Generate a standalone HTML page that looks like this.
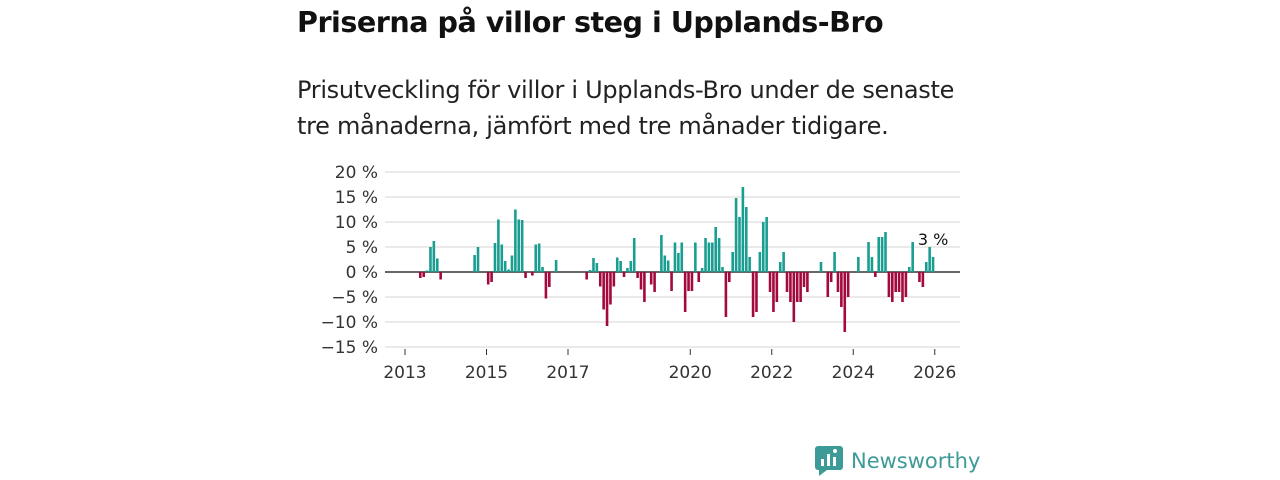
<!DOCTYPE html>
<html><head><meta charset="utf-8"><style>
body{margin:0;width:1280px;height:480px;background:#fff;font-family:"Liberation Sans","DejaVu Sans",sans-serif;overflow:hidden;position:relative}
#title{position:absolute;left:297px;top:5px;font-size:28.6px;font-weight:bold;color:#111;margin:0;font-family:"DejaVu Sans","Liberation Sans",sans-serif;letter-spacing:-0.5px}
#sub{position:absolute;left:297px;top:72px;font-size:24px;line-height:36px;color:#222;width:675px;font-family:"DejaVu Sans","Liberation Sans",sans-serif;letter-spacing:-0.3px}
svg{position:absolute;left:0;top:0}
#logo{position:absolute;left:815px;top:446px;display:flex;align-items:center;gap:8px;color:#3d9b97;font-size:21px;font-family:"DejaVu Sans",sans-serif}
</style></head><body>
<h1 id="title">Priserna på villor steg i Upplands-Bro</h1>
<div id="sub">Prisutveckling för villor i Upplands-Bro under de senaste tre månaderna, jämfört med tre månader tidigare.</div>
<svg id="chart" width="1280" height="480"></svg>
<div id="logo"><svg width="28" height="30" style="position:static"><rect x="0" y="0" width="28" height="24" rx="3" fill="#3d9b97"/><polygon points="4,24 12,24 4,30" fill="#3d9b97"/><rect x="6" y="13" width="3" height="7" fill="#fff"/><rect x="12" y="8" width="3" height="12" fill="#fff"/><rect x="18" y="11" width="3" height="9" fill="#fff"/><circle cx="20" cy="5" r="2" fill="#fff"/></svg><span>Newsworthy</span></div>
<script>
const monthIndex=[4,5,6,7,8,9,10,20,21,24,25,26,27,28,29,30,31,32,33,34,35,37,38,39,40,41,42,44,53,54,55,56,57,58,59,60,61,62,63,64,65,66,67,68,69,70,72,73,75,76,77,78,79,80,81,82,83,84,85,86,87,88,89,90,91,92,93,94,95,96,97,98,99,100,101,102,103,104,105,106,107,108,109,110,111,112,113,114,115,116,117,118,122,124,125,126,127,128,129,130,133,136,137,138,139,140,141,142,143,144,145,146,147,148,149,151,152,153,154,155];
const values=[-1.2,-1,0.3,5,6.2,2.7,-1.5,3.4,5,-2.5,-2,5.8,10.5,5.5,2.2,0.5,3.3,12.5,10.5,10.4,-1.2,-0.7,5.5,5.7,1,-5.3,-3,2.4,-1.5,0.4,2.8,1.8,-2.9,-7.5,-10.8,-6.5,-2.9,2.9,2.2,-1,0.8,2.2,6.8,-1.2,-3.5,-6,-2.5,-4,7.4,3.3,2.3,-3.8,5.9,3.8,5.9,-8,-3.8,-3.8,5.9,-2,0.8,6.8,5.9,5.9,9,6.8,1,-9,-2,4,14.8,11,17,13,3,-9,-8,4,10,11,-4,-8,-6,2,4,-4,-6,-10,-6,-6,-3,-4,2,-5,-2,4,-4,-7,-12,-5,3,6,3,-1,7,7,8,-5,-6,-4,-4,-6,-5,1,6,-2,-3,2,5,3];
const yTicks=[20,15,10,5,0,-5,-10,-15];
const xTickYears=[2013,2015,2017,2020,2022,2024,2026];
const ns="http://www.w3.org/2000/svg",svg=document.getElementById('chart');
const X0=385,X1=960,y=v=>272-v*5,xYear=t=>405+(t-2013)*40.75;
function mk(t,a){const e=document.createElementNS(ns,t);for(const k in a)e.setAttribute(k,a[k]);svg.appendChild(e);return e;}
yTicks.forEach(v=>{
 const l=mk('line',{x1:X0,x2:X1,y1:y(v),y2:y(v),stroke:v===0?'#333':'#ddd','stroke-width':v===0?1.5:1.2});
 
 const t=mk('text',{x:378,y:y(v)+6,'text-anchor':'end','font-size':17,fill:'#333','font-family':'DejaVu Sans,sans-serif'});
 t.textContent=(v<0?'\u2212'+(-v):v)+' %';
});
xTickYears.forEach(yr=>{
 const x=xYear(yr);
 const l=mk('line',{x1:x,x2:x,y1:349,y2:355,stroke:'#333'});
 
 const t=mk('text',{x:x,y:378,'text-anchor':'middle','font-size':17,fill:'#333','font-family':'DejaVu Sans,sans-serif'});
 t.textContent=yr;
});
monthIndex.forEach((m,i)=>{
 const v=values[i];const cx=xYear(2013+(m+0.5)/12);
 const r=mk('rect',{x:cx-1.3,width:2.6,y:Math.min(y(v),272),height:Math.abs(v*5),fill:v>=0?'#1a9e91':'#a3093e'});
 
});
const last=monthIndex.length-1;
const lab=mk('text',{x:xYear(2013+(monthIndex[last]+0.5)/12),y:y(values[last])-12,'text-anchor':'middle','font-size':16,fill:'#111','font-family':'DejaVu Sans,sans-serif',stroke:'#fff','stroke-width':3,'paint-order':'stroke'});
lab.textContent=Math.round(values[last])+' %';


</script>
</body></html>
